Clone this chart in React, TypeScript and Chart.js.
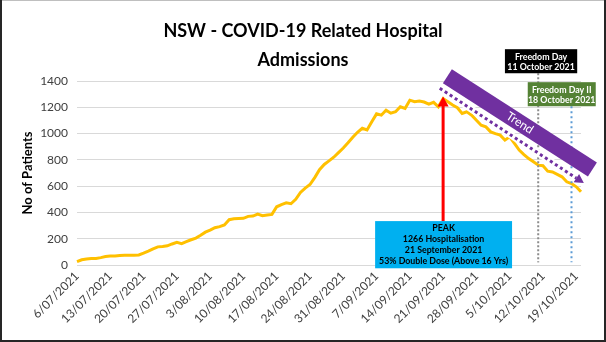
import React, { useEffect, useRef } from "react";
import { Chart, registerables } from "chart.js";

Chart.register(...registerables);

// ---------- data ----------
const START_DAY = { year: 2021, month: 7, day: 6 }; // first category: 6/07/2021
const DAY_COUNT = 107; // 6/07/2021 .. 20/10/2021

const ADMISSIONS = [
  26, 40, 46, 49, 50, 56, 64, 68, 68, 72,
  75, 75, 75, 76, 90, 105, 122, 138, 141, 146,
  160, 173, 163, 178, 192, 205, 226, 250, 265, 284,
  292, 305, 345, 352, 354, 355, 370, 372, 388, 375,
  380, 385, 443, 460, 473, 466, 500, 552, 585, 612,
  665, 725, 765, 792, 820, 855, 890, 930, 972, 1010,
  1040, 1027, 1090, 1150, 1140, 1178, 1155, 1166, 1204, 1191,
  1254, 1242, 1247, 1240, 1224, 1238, 1204, 1266, 1242, 1217,
  1197, 1153, 1166, 1140, 1102, 1064, 1051, 1013, 1000, 988,
  950, 975, 925, 874, 840, 810, 785, 760, 755, 714,
  708, 690, 671, 633, 620, 595, 557,
];

const Y_TICKS = [0, 200, 400, 600, 800, 1000, 1200, 1400];
const LABEL_EVERY = 7;

const TITLE_LINES = ["NSW - COVID-19 Related Hospital", "Admissions"];
const Y_TITLE = "No of Patients";

const PEAK_TEXT = ["PEAK", "1266 Hospitalisation", "21 September 2021", "53% Double Dose (Above 16 Yrs)"];
const FREEDOM1_TEXT = ["Freedom Day", "11 October 2021"];
const FREEDOM2_TEXT = ["Freedom Day II", "18 October 2021"];
const TREND_TEXT = "Trend";

// annotation anchors in data units (category index, value)
const PEAK_ARROW = { index: 77, from: 334, to: 1283 };
const PEAK_BOX = { i0: 62.7, i1: 91.5, vTop: 334, vBottom: -25 };
const FREEDOM1 = { index: 97, lineBottom: 20, i0: 90.0, i1: 105.2, vTop: 1642, vBottom: 1459 };
const FREEDOM2 = { index: 104, lineBottom: 20, i0: 94.8, i1: 109.1, vTop: 1391, vBottom: 1208 };
const TREND_BAND = { i0: 77.9, v0: 1436, i1: 108.4, v1: 726 };
const TREND_ARROW = { i0: 76.3, v0: 1345, i1: 106.6, v1: 623 };

function makeDates(): string[] {
  const out: string[] = [];
  const d = new Date(START_DAY.year, START_DAY.month - 1, START_DAY.day);
  for (let i = 0; i < DAY_COUNT; i++) {
    const mm = String(d.getMonth() + 1).padStart(2, "0");
    out.push(`${d.getDate()}/${mm}/${d.getFullYear()}`);
    d.setDate(d.getDate() + 1);
  }
  return out;
}
const DATES = makeDates();

const FONT = "Lato";

const annotations = {
  id: "annotations",
  afterDraw(chart: any) {
    const ctx = chart.ctx as CanvasRenderingContext2D;
    const xs = chart.scales.x;
    const ys = chart.scales.y;
    const px = (i: number) => xs.getPixelForValue(i);
    const py = (v: number) => ys.getPixelForValue(v);
    ctx.save();

    // vertical dotted lines
    const vline = (i: number, vTop: number, vBot: number, color: string, dash: number[]) => {
      ctx.save();
      ctx.strokeStyle = color;
      ctx.lineWidth = 2;
      ctx.setLineDash(dash);
      ctx.beginPath();
      ctx.moveTo(px(i), py(vTop));
      ctx.lineTo(px(i), py(vBot));
      ctx.stroke();
      ctx.restore();
    };
    vline(FREEDOM1.index, FREEDOM1.vBottom, FREEDOM1.lineBottom, "#8C8C8C", [2, 2]);
    vline(FREEDOM2.index, FREEDOM2.vBottom, FREEDOM2.lineBottom, "#5B9BD5", [2, 3]);

    // trend band
    const c0 = { x: px(TREND_BAND.i0), y: py(TREND_BAND.v0) };
    const c1 = { x: px(TREND_BAND.i1), y: py(TREND_BAND.v1) };
    const ang = Math.atan2(c1.y - c0.y, c1.x - c0.x);
    const half = 8.3;
    const nx = -Math.sin(ang) * half;
    const ny = Math.cos(ang) * half;
    ctx.fillStyle = "#7030A0";
    ctx.beginPath();
    ctx.moveTo(c0.x - nx, c0.y - ny);
    ctx.lineTo(c1.x - nx, c1.y - ny);
    ctx.lineTo(c1.x + nx, c1.y + ny);
    ctx.lineTo(c0.x + nx, c0.y + ny);
    ctx.closePath();
    ctx.fill();
    ctx.save();
    ctx.translate((c0.x + c1.x) / 2, (c0.y + c1.y) / 2);
    ctx.rotate(ang);
    ctx.fillStyle = "#FFFFFF";
    ctx.font = `12px ${FONT}`;
    ctx.textAlign = "center";
    ctx.textBaseline = "middle";
    ctx.fillText(TREND_TEXT, 0, 0);
    ctx.restore();

    // dotted trend arrow
    const a = { x: px(TREND_ARROW.i0), y: py(TREND_ARROW.v0) };
    const b = { x: px(TREND_ARROW.i1), y: py(TREND_ARROW.v1) };
    const ang2 = Math.atan2(b.y - a.y, b.x - a.x);
    const headLen = 9;
    const e = { x: b.x - Math.cos(ang2) * headLen, y: b.y - Math.sin(ang2) * headLen };
    ctx.strokeStyle = "#FFFFFF";
    ctx.lineWidth = 7;
    ctx.beginPath();
    ctx.moveTo(a.x, a.y);
    ctx.lineTo(e.x, e.y);
    ctx.stroke();
    ctx.save();
    ctx.strokeStyle = "#7030A0";
    ctx.lineWidth = 3;
    ctx.setLineDash([3, 3]);
    ctx.beginPath();
    ctx.moveTo(a.x, a.y);
    ctx.lineTo(e.x, e.y);
    ctx.stroke();
    ctx.restore();
    const hx = -Math.sin(ang2) * 5;
    const hy = Math.cos(ang2) * 5;
    ctx.fillStyle = "#7030A0";
    ctx.beginPath();
    ctx.moveTo(b.x, b.y);
    ctx.lineTo(e.x + hx, e.y + hy);
    ctx.lineTo(e.x - hx, e.y - hy);
    ctx.closePath();
    ctx.fill();

    // red peak arrow
    const ax = px(PEAK_ARROW.index);
    const tipY = py(PEAK_ARROW.to);
    const baseY = py(PEAK_ARROW.from);
    ctx.strokeStyle = "#FF0000";
    ctx.lineWidth = 3;
    ctx.beginPath();
    ctx.moveTo(ax, baseY);
    ctx.lineTo(ax, tipY + 9);
    ctx.stroke();
    ctx.fillStyle = "#FF0000";
    ctx.beginPath();
    ctx.moveTo(ax, tipY);
    ctx.lineTo(ax - 5.5, tipY + 10);
    ctx.lineTo(ax + 5.5, tipY + 10);
    ctx.closePath();
    ctx.fill();

    // boxes
    const box = (
      b0: { i0: number; i1: number; vTop: number; vBottom: number },
      fill: string,
      textColor: string,
      lines: string[],
      lineGap: number,
      firstOffset: number
    ) => {
      const x0 = px(b0.i0);
      const x1 = px(b0.i1);
      const y0 = py(b0.vTop);
      const y1 = py(b0.vBottom);
      ctx.fillStyle = fill;
      ctx.fillRect(x0, y0, x1 - x0, y1 - y0);
      ctx.fillStyle = textColor;
      ctx.font = `bold 8.8px ${FONT}`;
      ctx.textAlign = "center";
      ctx.textBaseline = "middle";
      lines.forEach((t, k) => ctx.fillText(t, (x0 + x1) / 2, y0 + firstOffset + k * lineGap));
    };
    box(PEAK_BOX, "#00B0F0", "#000000", PEAK_TEXT, 11, 7.5);
    box(FREEDOM1, "#000000", "#FFFFFF", FREEDOM1_TEXT, 10, 7.5);
    box(FREEDOM2, "#548235", "#FFFFFF", FREEDOM2_TEXT, 10, 7.5);

    // outer frame
    const W = chart.width;
    const H = chart.height;
    ctx.fillStyle = "#BFBFBF";
    ctx.fillRect(0, 0, W, 1);
    ctx.fillStyle = "#262626";
    ctx.fillRect(0, 0, 2, H);
    ctx.fillRect(W - 2, 0, 2, H);
    ctx.fillRect(0, H - 2, W, 2);
    ctx.restore();
  },
};

export default function App() {
  const ref = useRef<HTMLCanvasElement>(null);
  useEffect(() => {
    if (!ref.current) return;
    const chart = new Chart(ref.current, {
      type: "line",
      data: {
        labels: DATES,
        datasets: [
          {
            label: "Admissions",
            data: ADMISSIONS,
            borderColor: "#FFC000",
            backgroundColor: "#FFC000",
            borderWidth: 3,
            pointRadius: 0,
            tension: 0,
            fill: false,
          },
        ],
      },
      options: {
        responsive: false,
        animation: false,
        layout: { padding: { left: 0, right: 0, top: 0, bottom: 0 } },
        plugins: {
          legend: { display: false },
          tooltip: { enabled: false },
          title: {
            display: true,
            text: TITLE_LINES,
            color: "#000000",
            font: { family: FONT, size: 18, weight: "bold", lineHeight: 1.6 },
            padding: { top: 16.5, bottom: 6.9 },
          },
        },
        scales: {
          x: {
            type: "category",
            offset: false,
            grid: { display: false, drawTicks: false },
            border: { display: false },
            ticks: {
              autoSkip: false,
              minRotation: 45,
              maxRotation: 45,
              padding: 4,
              color: "#404040",
              font: { family: FONT, size: 12 },
              callback: (_v: any, idx: number) => (idx % LABEL_EVERY === 0 ? DATES[idx] : ""),
            },
            afterFit: (s: any) => {
              s.height = 77;
            },
          },
          y: {
            min: Y_TICKS[0],
            max: Y_TICKS[Y_TICKS.length - 1],
            afterBuildTicks: (s: any) => {
              s.ticks = Y_TICKS.map((v) => ({ value: v }));
            },
            grid: { color: "#D9D9D9", lineWidth: 1, drawTicks: false },
            border: { display: false },
            ticks: {
              padding: 9,
              color: "#404040",
              font: { family: FONT, size: 12 },
              callback: (v: any) => String(v),
            },
            title: {
              display: true,
              text: Y_TITLE,
              color: "#000000",
              font: { family: FONT, size: 13, weight: "bold" },
              padding: { top: 20, bottom: 0 },
            },
            afterFit: (s: any) => {
              s.width = 77;
            },
          },
          spacer: {
            type: "linear",
            position: "right",
            display: true,
            grid: { display: false, drawTicks: false },
            border: { display: false },
            ticks: { display: false },
            afterFit: (s: any) => {
              s.width = 25;
            },
          },
        },
      },
      plugins: [annotations],
    });
    return () => chart.destroy();
  }, []);
  return (
    <div style={{ position: "fixed", left: 0, top: 0, width: 606, height: 342, background: "#fff" }}>
      <canvas ref={ref} width={606} height={342} style={{ display: "block" }} />
    </div>
  );
}
